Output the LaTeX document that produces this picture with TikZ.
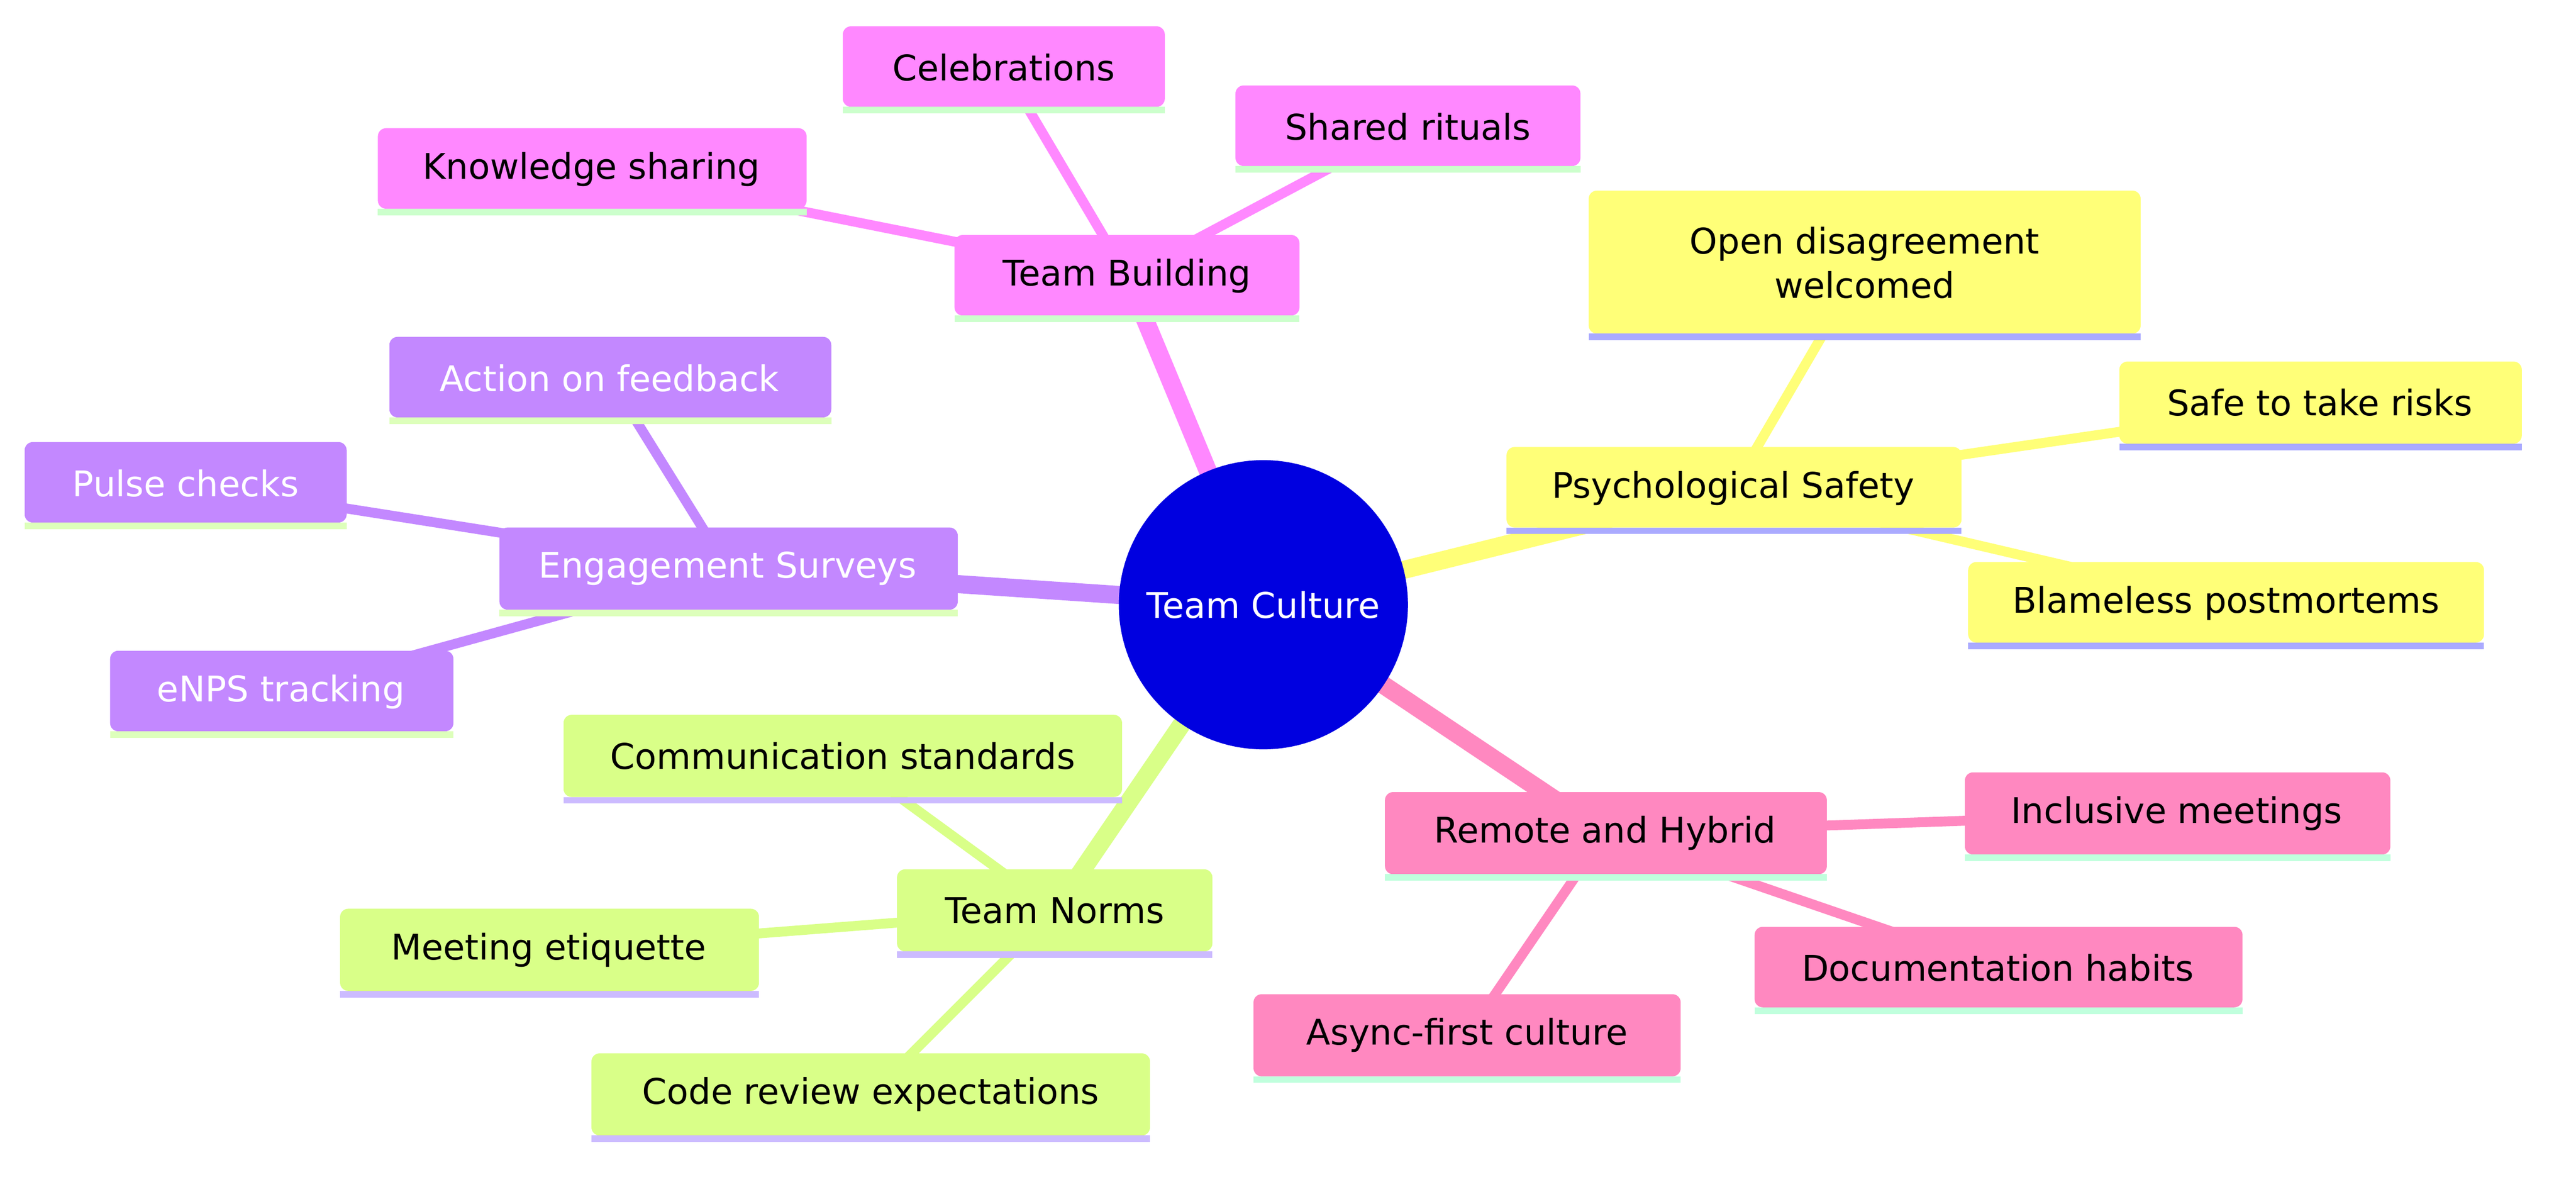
\documentclass[tikz,border=0pt]{standalone}
\usepackage{fontspec}
\setmainfont{DejaVu Sans}
\definecolor{cTB}{HTML}{FF88FF}
\definecolor{cPS}{HTML}{FFFF78}
\definecolor{cES}{HTML}{C388FF}
\definecolor{cTN}{HTML}{D9FF88}
\definecolor{cRH}{HTML}{FF88C0}
\definecolor{bTB}{HTML}{CCFFCC}
\definecolor{bPS}{HTML}{AAAAFF}
\definecolor{bES}{HTML}{DDFFBB}
\definecolor{bTN}{HTML}{CCBBFF}
\definecolor{bRH}{HTML}{C0FFDD}
\begin{document}
\begin{tikzpicture}[x=1pt,y=-1pt,font=\fontsize{21.5}{27}\selectfont]
\useasboundingbox (0,0) rectangle (1568,716);
\newcommand{\mmbox}[7]{% name, x1,y1,x2,y2, fill, bottom
  \fill[#6,rounded corners=5pt] (#2,#3) rectangle (#4,#5);
  \fill[#7] (#2,#5) rectangle (#4,#5+4);}
\coordinate (root) at (769,368);
\coordinate (TB) at (686,168);
\coordinate (KS) at (360,103);
\coordinate (CE) at (611,41);
\coordinate (SR) at (857,77);
\coordinate (PS) at (1055,297);
\coordinate (OD) at (1135,160);
\coordinate (SF) at (1412,245);
\coordinate (BP) at (1355,367);
\coordinate (ES) at (443,346);
\coordinate (AF) at (371,230);
\coordinate (PC) at (113,294);
\coordinate (EN) at (171,421);
\coordinate (TN) at (642,554);
\coordinate (CS) at (513,460);
\coordinate (ME) at (334,578);
\coordinate (CR) at (530,666);
\coordinate (RH) at (977,507);
\coordinate (IM) at (1325,495);
\coordinate (DH) at (1216,589);
\coordinate (AC) at (893,630);
% edges
\draw[cTB,line width=11pt] (root)--(TB);
\draw[cPS,line width=11pt] (root)--(PS);
\draw[cES,line width=11pt] (root)--(ES);
\draw[cTN,line width=11pt] (root)--(TN);
\draw[cRH,line width=11pt] (root)--(RH);
\draw[cTB,line width=6pt] (TB)--(KS) (TB)--(CE) (TB)--(SR);
\draw[cPS,line width=6pt] (PS)--(OD) (PS)--(SF) (PS)--(BP);
\draw[cES,line width=6pt] (ES)--(AF) (ES)--(PC) (ES)--(EN);
\draw[cTN,line width=6pt] (TN)--(CS) (TN)--(ME) (TN)--(CR);
\draw[cRH,line width=6pt] (RH)--(IM) (RH)--(DH) (RH)--(AC);
% boxes
\mmbox{TB}{581}{143}{791}{192}{cTB}{bTB}
\mmbox{KS}{230}{78}{491}{127}{cTB}{bTB}
\mmbox{CE}{513}{16}{709}{65}{cTB}{bTB}
\mmbox{SR}{752}{52}{962}{101}{cTB}{bTB}
\mmbox{PS}{917}{272}{1194}{321}{cPS}{bPS}
\mmbox{OD}{967}{116}{1303}{203}{cPS}{bPS}
\mmbox{SF}{1290}{220}{1535}{270}{cPS}{bPS}
\mmbox{BP}{1198}{342}{1512}{391}{cPS}{bPS}
\mmbox{ES}{304}{321}{583}{371}{cES}{bES}
\mmbox{AF}{237}{205}{506}{254}{cES}{bES}
\mmbox{PC}{15}{269}{211}{318}{cES}{bES}
\mmbox{EN}{67}{396}{276}{445}{cES}{bES}
\mmbox{TN}{546}{529}{738}{579}{cTN}{bTN}
\mmbox{CS}{343}{435}{683}{485}{cTN}{bTN}
\mmbox{ME}{207}{553}{462}{603}{cTN}{bTN}
\mmbox{CR}{360}{641}{700}{691}{cTN}{bTN}
\mmbox{RH}{843}{482}{1112}{532}{cRH}{bRH}
\mmbox{IM}{1196}{470}{1455}{520}{cRH}{bRH}
\mmbox{DH}{1068}{564}{1365}{613}{cRH}{bRH}
\mmbox{AC}{763}{605}{1023}{655}{cRH}{bRH}
\fill[fill={rgb,255:red,0;green,0;blue,224}] (root) circle (88);
\tikzset{lb/.style={align=center}, wl/.style={lb,text=white}}
\node[wl] (tRoot) at (root) {Team Culture};
\node[lb] (tTB) at (TB) {Team Building};
\node[lb] (tKS) at (KS) {Knowledge sharing};
\node[lb] (tCE) at (CE) {Celebrations};
\node[lb] (tSR) at (SR) {Shared rituals};
\node[lb] (tPS) at (PS) {Psychological Safety};
\node[lb] (tOD) at (OD) {Open disagreement\\welcomed};
\node[lb] (tSF) at (SF) {Safe to take risks};
\node[lb] (tBP) at (BP) {Blameless postmortems};
\node[wl] (tES) at (ES) {Engagement Surveys};
\node[wl] (tAF) at (AF) {Action on feedback};
\node[wl] (tPC) at (PC) {Pulse checks};
\node[wl] (tEN) at (EN) {eNPS tracking};
\node[lb] (tTN) at (TN) {Team Norms};
\node[lb] (tCS) at (CS) {Communication standards};
\node[lb] (tME) at (ME) {Meeting etiquette};
\node[lb] (tCR) at (CR) {Code review expectations};
\node[lb] (tRH) at (RH) {Remote and Hybrid};
\node[lb] (tIM) at (IM) {Inclusive meetings};
\node[lb] (tDH) at (DH) {Documentation habits};
\node[lb] (tAC) at (AC) {Async-first culture};
\end{tikzpicture}
\end{document}
